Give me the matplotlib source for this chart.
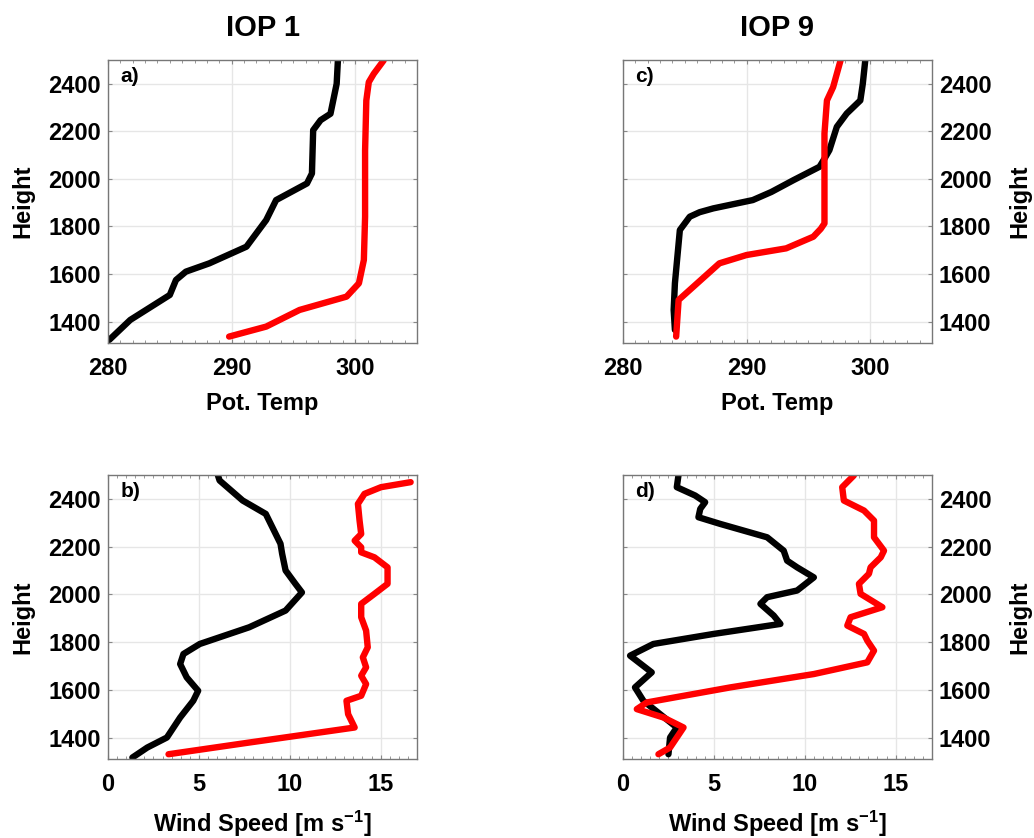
import matplotlib
matplotlib.use('Agg')
import matplotlib.pyplot as plt
from matplotlib.ticker import MultipleLocator

plt.rcParams['font.family'] = ['Liberation Sans', 'DejaVu Sans']
plt.rcParams['font.weight'] = 'bold'
plt.rcParams['mathtext.fontset'] = 'custom'
plt.rcParams['mathtext.rm'] = 'Liberation Sans:bold'
plt.rcParams['mathtext.bf'] = 'Liberation Sans:bold'
plt.rcParams['mathtext.default'] = 'bf'

# IOP 1 potential temperature (x) vs height (y)
iop1_theta_black = [280.1, 281.8, 285.0, 285.5, 286.3, 288.2, 291.2, 292.8, 293.6, 296.1,
                    296.5, 296.6, 297.2, 298.0, 298.5, 298.6]
iop1_theta_black_z = [1323, 1407, 1512, 1575, 1610, 1645, 1715, 1827, 1911, 1981,
                      2023, 2205, 2247, 2274, 2400, 2498]
iop1_theta_red = [289.8, 292.8, 295.5, 299.3, 300.3, 300.7, 300.8, 300.8, 300.8, 300.9,
                  301.1, 301.5, 302.3]
iop1_theta_red_z = [1337, 1379, 1449, 1505, 1561, 1659, 1841, 1980, 2119, 2330,
                    2407, 2442, 2498]

# IOP 9 potential temperature
iop9_theta_black = [284.2, 284.1, 284.2, 284.6, 285.4, 286.2, 287.3, 290.5, 292.0, 293.8,
                    295.9, 296.3, 296.7, 297.3, 298.1, 299.2, 299.4, 299.6]
iop9_theta_black_z = [1365, 1449, 1561, 1785, 1841, 1860, 1876, 1911, 1945, 1995,
                      2051, 2085, 2121, 2219, 2275, 2330, 2400, 2498]
iop9_theta_red = [284.3, 284.5, 285.7, 287.8, 290.0, 293.2, 295.4, 296.0, 296.3, 296.3,
                  296.3, 296.5, 297.0, 297.6]
iop9_theta_red_z = [1337, 1491, 1547, 1645, 1680, 1708, 1757, 1790, 1813, 1981,
                    2191, 2330, 2386, 2498]

# IOP 1 wind speed
iop1_ws_black = [1.34, 2.16, 3.24, 3.97, 4.69, 4.96, 4.33, 3.97, 4.15, 5.05, 7.77, 9.77,
                 10.67, 10.31, 9.77, 9.58, 9.49, 8.68, 7.41, 6.14, 6.05]
iop1_ws_black_z = [1316, 1358, 1400, 1484, 1554, 1596, 1652, 1708, 1750, 1792, 1862, 1932,
                   2008, 2044, 2100, 2170, 2212, 2337, 2393, 2477, 2498]
iop1_ws_red = [3.33, 7.77, 13.57, 13.21, 13.12, 13.93, 14.20, 13.93, 14.20, 14.02, 14.29,
               14.20, 13.93, 13.93, 14.66, 15.38, 15.38, 14.66, 13.93, 13.93, 13.57, 13.93,
               13.84, 13.75, 14.11, 15.02, 16.65]
iop1_ws_red_z = [1330, 1379, 1442, 1498, 1554, 1575, 1624, 1659, 1694, 1736, 1778,
                 1848, 1904, 1960, 2002, 2044, 2113, 2155, 2176, 2197, 2225, 2253,
                 2309, 2379, 2421, 2449, 2470]

# IOP 9 wind speed
iop9_ws_black = [2.50, 2.59, 2.96, 2.04, 1.12, 0.66, 1.58, 0.39, 1.67, 4.98, 8.66, 8.29,
                 7.56, 7.93, 9.58, 10.50, 9.58, 9.03, 8.84, 7.93, 5.35, 4.15, 4.25, 4.52,
                 3.97, 2.96, 3.05]
iop9_ws_black_z = [1330, 1400, 1442, 1498, 1554, 1610, 1673, 1743, 1792, 1834, 1876, 1911,
                   1960, 1988, 2016, 2071, 2113, 2141, 2183, 2239, 2295, 2323, 2358, 2386,
                   2414, 2449, 2498]
iop9_ws_red = [1.95, 2.59, 3.33, 2.22, 0.76, 1.31, 5.90, 10.50, 13.44, 13.81, 13.44, 13.26,
               12.34, 12.52, 14.27, 13.07, 12.98, 13.53, 13.62, 14.18, 14.36, 13.81, 13.81,
               13.26, 12.15, 12.06, 12.70]
iop9_ws_red_z = [1330, 1358, 1442, 1484, 1519, 1547, 1610, 1666, 1715, 1764, 1806, 1834,
                 1869, 1904, 1946, 2002, 2044, 2086, 2113, 2155, 2183, 2239, 2309, 2351,
                 2393, 2449, 2498]

y_ticks = [1400, 1600, 1800, 2000, 2200, 2400]

fig = plt.figure(figsize=(10.34, 8.38), dpi=100)
W, H = 1034.0, 838.0


def make_axes(left, top, right, bottom):
    return fig.add_axes([left / W, 1 - bottom / H, (right - left) / W, (bottom - top) / H])


ax_a = make_axes(108, 60, 417, 343)
ax_c = make_axes(623, 60, 932, 343)
ax_b = make_axes(108, 475, 417, 759)
ax_d = make_axes(623, 475, 932, 759)

panels = [
    (ax_a, iop1_theta_black, iop1_theta_black_z, iop1_theta_red, iop1_theta_red_z, 'a)', 'left'),
    (ax_c, iop9_theta_black, iop9_theta_black_z, iop9_theta_red, iop9_theta_red_z, 'c)', 'right'),
    (ax_b, iop1_ws_black, iop1_ws_black_z, iop1_ws_red, iop1_ws_red_z, 'b)', 'left'),
    (ax_d, iop9_ws_black, iop9_ws_black_z, iop9_ws_red, iop9_ws_red_z, 'd)', 'right'),
]

for ax, xb, zb, xr, zr, lab, side in panels:
    ax.plot(xb, zb, color='black', lw=4.6, solid_capstyle='round', solid_joinstyle='round')
    ax.plot(xr, zr, color='#ff0000', lw=4.6, solid_capstyle='round', solid_joinstyle='round')
    ax.set_ylim(1310, 2500)
    ax.set_yticks(y_ticks)
    ax.grid(True, color='#e6e6e6', lw=1.0)
    ax.set_axisbelow(True)
    for sp in ax.spines.values():
        sp.set_color('#777777')
        sp.set_linewidth(1.0)
    ax.tick_params(which='both', direction='in', top=True, right=True, colors='#888888',
                   labelcolor='black', labelsize=17)
    ax.tick_params(which='major', length=3)
    ax.tick_params(which='minor', length=2)
    ax.tick_params(axis='x', pad=10)
    ax.tick_params(axis='y', pad=5)
    if side == 'right':
        ax.yaxis.tick_right()
        ax.yaxis.set_label_position('right')
        ax.tick_params(which='both', left=True, right=True)
        ax.set_ylabel('Height', fontsize=17, fontweight='bold', labelpad=12)
    else:
        ax.set_ylabel('Height', fontsize=17, fontweight='bold', labelpad=10)
    ax.text(0.04, 0.975, lab, transform=ax.transAxes, ha='left', va='top',
            fontsize=15, fontweight='bold')

for ax in (ax_a, ax_c):
    ax.set_xlim(280, 305)
    ax.set_xticks([280, 290, 300])
    ax.xaxis.set_minor_locator(MultipleLocator(1))
    ax.set_xlabel('Pot. Temp', fontsize=17, fontweight='bold', labelpad=9)

for ax in (ax_b, ax_d):
    ax.set_xlim(0, 17)
    ax.set_xticks([0, 5, 10, 15])
    ax.xaxis.set_minor_locator(MultipleLocator(0.5))
    ax.set_xlabel(r'Wind Speed [m s$^{\mathbf{-1}}$]', fontsize=17, fontweight='bold', labelpad=9)

ax_a.set_title('IOP 1', fontsize=21, fontweight='bold', pad=17)
ax_c.set_title('IOP 9', fontsize=21, fontweight='bold', pad=17)

fig.savefig('out.png', dpi=100)
